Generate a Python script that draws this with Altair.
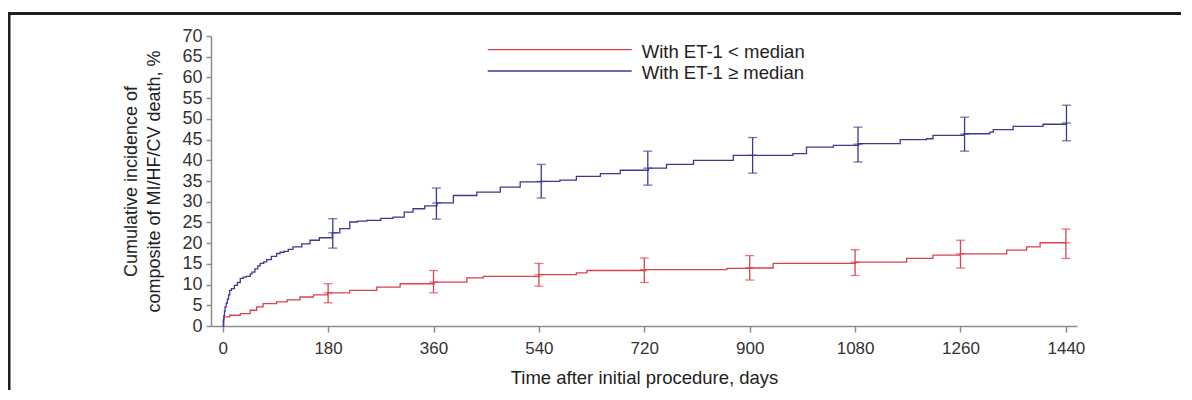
import altair as alt
import pandas as pd

# ---- data ----
red_days = [0, 2, 12, 30, 47, 58, 69, 92, 110, 132, 155, 179, 217, 263, 303, 361, 417, 445,
            541, 604, 622, 722, 861, 902, 940, 1081, 1168, 1213, 1259, 1339, 1373, 1396, 1441]
red_vals = [0, 2.2, 2.6, 3.0, 3.8, 4.6, 5.4, 5.8, 6.3, 7.0, 7.5, 8.0, 8.6, 9.4, 10.2, 10.6,
            11.6, 12.0, 12.4, 12.8, 13.4, 13.6, 13.9, 14.0, 15.1, 15.4, 16.3, 17.1, 17.4,
            18.3, 19.1, 20.1, 20.1]

blue_days = [0, 1, 2, 3, 4, 6, 8, 10, 12, 15, 20, 25, 30, 35, 40, 47, 50, 55, 60, 64, 70,
             75, 83, 92, 98, 105, 112, 120, 135, 149, 165, 187, 200, 217, 230, 246, 270, 291,
             310, 325, 345, 366, 394, 434, 474, 508, 545, 576, 604, 645, 679, 701, 727, 758,
             804, 872, 906, 974, 997, 1043, 1086, 1157, 1202, 1213, 1266, 1310, 1316, 1350,
             1401, 1441]
blue_vals = [0, 1.5, 2.5, 3.5, 4.6, 5.5, 6.5, 7.5, 8.6, 9.0, 9.8, 10.5, 11.5, 11.8, 12.0,
             12.6, 13.0, 13.8, 14.5, 15.1, 15.5, 16.0, 16.8, 17.5, 17.8, 18.0, 18.5, 19.1,
             19.8, 20.7, 21.3, 22.5, 23.5, 25.1, 25.3, 25.5, 26.0, 26.3, 27.5, 28.3, 29.0,
             29.7, 31.5, 32.3, 33.5, 34.8, 34.9, 35.2, 36.1, 36.8, 37.6, 37.6, 38.1, 39.0,
             40.0, 41.2, 41.2, 41.6, 43.2, 43.6, 44.0, 45.0, 45.2, 46.0, 46.4, 46.8, 47.4,
             48.2, 48.7, 49.0]

red_bar_days = [180, 360, 540, 720, 900, 1080, 1260, 1440]
red_bar_mid = [8.0, 10.6, 12.4, 13.6, 14.1, 15.4, 17.4, 20.1]
red_bar_low = [5.6, 8.0, 9.6, 10.5, 11.1, 12.2, 14.0, 16.3]
red_bar_high = [10.2, 13.4, 15.1, 16.4, 17.0, 18.4, 20.7, 23.4]

blue_bar_days = [188, 365, 544, 726, 905, 1085, 1267, 1441]
blue_bar_mid = [22.5, 29.7, 34.9, 38.1, 41.2, 43.9, 46.3, 49.0]
blue_bar_low = [18.8, 25.8, 30.9, 34.0, 36.9, 39.6, 42.2, 44.7]
blue_bar_high = [25.9, 33.3, 39.0, 42.2, 45.5, 48.0, 50.4, 53.3]

groups = ["With ET-1 < median", "With ET-1 \u2265 median"]
x_ticks = [0, 180, 360, 540, 720, 900, 1080, 1260, 1440]
y_ticks = [0, 5, 10, 15, 20, 25, 30, 35, 40, 45, 50, 55, 60, 65, 70]
x_title = "Time after initial procedure, days"
y_title = ["Cumulative incidence of", "composite of MI/HF/CV death, %"]

# ---- style ----
FONT = "Liberation Sans"
RED = "#da4250"
BLUE = "#3a3a8e"
AXIS_GREY = "#8c8c8c"

curves = pd.concat([
    pd.DataFrame({"day": red_days, "val": red_vals, "group": groups[0]}),
    pd.DataFrame({"day": blue_days, "val": blue_vals, "group": groups[1]}),
])
bars = pd.concat([
    pd.DataFrame({"day": red_bar_days, "mid": red_bar_mid, "low": red_bar_low,
                  "high": red_bar_high, "group": groups[0]}),
    pd.DataFrame({"day": blue_bar_days, "mid": blue_bar_mid, "low": blue_bar_low,
                  "high": blue_bar_high, "group": groups[1]}),
])

x_scale = alt.Scale(domain=[-20, 1459], nice=False, zero=False)
y_scale = alt.Scale(domain=[0, 70], nice=False)
color = alt.Color("group:N", scale=alt.Scale(domain=groups, range=[RED, BLUE]), legend=None)

x_axis = alt.Axis(values=x_ticks, title=x_title, format="d", tickSize=6, labelPadding=8,
                  labelFontSize=17, titleFontSize=18.5, titlePadding=12, labelFlush=False,
                  labelOverlap=False, grid=False)
y_axis = alt.Axis(values=y_ticks, title=y_title, format="d", tickSize=5, labelPadding=4,
                  labelFontSize=18, titleFontSize=18, titlePadding=18, titleLineHeight=23,
                  labelOverlap=False, grid=False)


def xe():
    return alt.X("day:Q", scale=x_scale, axis=x_axis)


def ye(field):
    return alt.Y(field, scale=y_scale, axis=y_axis)


lines = alt.Chart(curves).mark_line(interpolate="step-after", strokeWidth=1.3).encode(
    x=xe(), y=ye("val:Q"), color=color, detail="group:N")

base = alt.Chart(bars).encode(x=xe(), color=color)
err_rule = base.mark_rule(strokeWidth=1.3).encode(y=ye("low:Q"), y2="high:Q")
cap_low = base.mark_tick(orient="horizontal", size=9, thickness=1.3).encode(y=ye("low:Q"))
cap_high = base.mark_tick(orient="horizontal", size=9, thickness=1.3).encode(y=ye("high:Q"))
cap_mid = base.mark_tick(orient="horizontal", size=9, thickness=1.3).encode(y=ye("mid:Q"))

one = pd.DataFrame({"k": [0]})
frame_top = alt.Chart(one).mark_rule(color="#1e1e1e", strokeWidth=3).encode(
    x=alt.value(-203.5), x2=alt.value(970), y=alt.value(-22.5))
frame_left = alt.Chart(one).mark_rule(color="#1e1e1e", strokeWidth=3).encode(
    x=alt.value(-202), y=alt.value(-24), y2=alt.value(356))

leg_red = alt.Chart(one).mark_rule(color=RED, strokeWidth=1.4).encode(
    x=alt.value(276.7), x2=alt.value(420.7), y=alt.value(13.6))
leg_blue = alt.Chart(one).mark_rule(color=BLUE, strokeWidth=1.4).encode(
    x=alt.value(276.7), x2=alt.value(420.7), y=alt.value(35))
leg_red_t = alt.Chart(one).mark_text(align="left", baseline="middle", fontSize=18.5,
                                     font=FONT, color="#222222",
                                     text=groups[0]).encode(
    x=alt.value(430.7), y=alt.value(16))
leg_blue_t = alt.Chart(one).mark_text(align="left", baseline="middle", fontSize=18.5,
                                      font=FONT, color="#222222",
                                      text=groups[1]).encode(
    x=alt.value(430.7), y=alt.value(37))

chart = alt.layer(
    lines, err_rule, cap_low, cap_high, cap_mid,
    frame_top, frame_left, leg_red, leg_blue, leg_red_t, leg_blue_t
).properties(
    width=866, height=290,
    autosize=alt.AutoSizeParams(type="none"),
    padding={"left": 203, "top": 28, "right": 105, "bottom": 64},
    background="white",
).configure_view(strokeWidth=0).configure_axis(
    labelFont=FONT, titleFont=FONT, labelColor="#333333", titleColor="#222222",
    titleFontWeight="normal", domainColor=AXIS_GREY, domainWidth=1.5,
    tickColor=AXIS_GREY, tickWidth=1.5,
)

chart.save("out.html", embed_options={"renderer": "svg", "actions": False})
